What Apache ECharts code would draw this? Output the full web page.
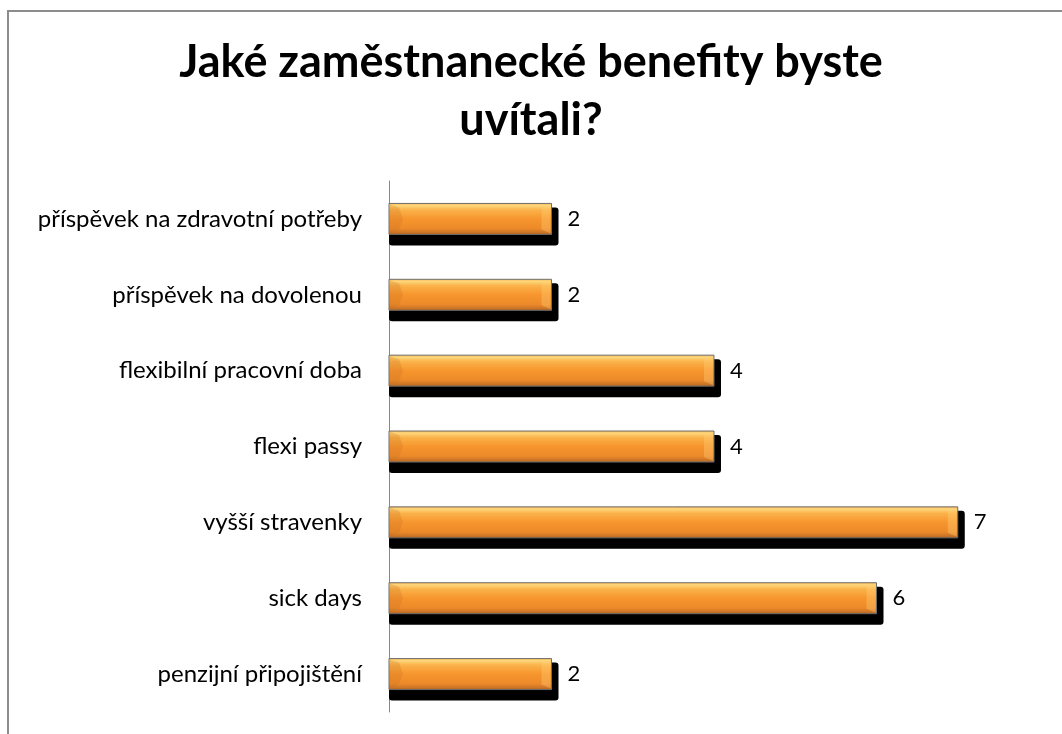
<!DOCTYPE html>
<html>
<head>
<meta charset="utf-8">
<script src="https://cdn.jsdelivr.net/npm/echarts@6/dist/echarts.min.js"></script>
<style>
html,body{margin:0;padding:0;background:#fff;}
#chart{width:1062px;height:734px;}
</style>
</head>
<body>
<div id="chart"></div>
<script>
var titleText = 'Jaké zaměstnanecké benefity byste\nuvítali?';
var categories = ['penzijní připojištění', 'sick days', 'vyšší stravenky', 'flexi passy', 'flexibilní pracovní doba', 'příspěvek na dovolenou', 'příspěvek na zdravotní potřeby'];
var values = [2, 6, 7, 4, 4, 2, 2];

var seriesData = values.map(function (v, i) { return [v, i]; });

var faceGrad = new echarts.graphic.LinearGradient(0, 0, 0, 1, [
  { offset: 0, color: '#f8b04a' },
  { offset: 0.08, color: '#fdd77c' },
  { offset: 0.22, color: '#fbb24a' },
  { offset: 0.5, color: '#f7952d' },
  { offset: 0.8, color: '#ec8a2a' },
  { offset: 0.92, color: '#cd7526' },
  { offset: 1, color: '#a9621f' }
]);

function renderBar(params, api) {
  var p0 = api.coord([0, api.value(1)]);
  var p1 = api.coord([api.value(0), api.value(1)]);
  var h = 31;
  var x0 = p0[0], x1 = p1[0];
  var y0 = p0[1] - h / 2, y1 = p0[1] + h / 2;
  var bev = 10;
  return {
    type: 'group',
    children: [
      { type: 'rect', shape: { x: x0, y: y0 + 4, width: x1 - x0 + 7, height: h + 7, r: 3 },
        style: { fill: '#000' } },
      { type: 'rect', shape: { x: x0, y: y0, width: x1 - x0, height: h },
        style: { fill: faceGrad, stroke: '#6e6e6e', lineWidth: 1 } },
      { type: 'polygon', shape: { points: [[x1 - bev, y0 + 4], [x1 - 1, y0 + 1], [x1 - 1, y1 - 1], [x1 - bev, y1 - 5]] },
        style: { fill: 'rgba(255,210,120,0.35)' } },
      { type: 'polygon', shape: { points: [[x0 + 1, y0 + 1], [x0 + bev, y0 + 4], [x0 + bev + 4, y0 + h / 2], [x0 + bev, y1 - 5], [x0 + 1, y1 - 1]] },
        style: { fill: 'rgba(200,110,30,0.25)' } }
    ]
  };
}

var chart = echarts.init(document.getElementById('chart'));
chart.setOption({
  animation: false,
  backgroundColor: '#ffffff',
  graphic: [{
    type: 'polyline',
    shape: { points: [[8, 734], [8, 11], [1062, 11]] },
    style: { stroke: '#8c8c8c', lineWidth: 2, fill: null }
  }],
  title: {
    text: titleText,
    left: 'center',
    top: 28,
    textStyle: { fontFamily: 'Lato', fontWeight: 'bold', fontSize: 45, color: '#000', lineHeight: 58 }
  },
  grid: { left: 389, right: 23, top: 181, bottom: 22, containLabel: false },
  xAxis: {
    type: 'value', min: 0, max: 8,
    axisLine: { show: false }, axisTick: { show: false },
    axisLabel: { show: false }, splitLine: { show: false }
  },
  yAxis: {
    type: 'category', data: categories,
    axisLine: { show: true, lineStyle: { color: '#888', width: 1 } },
    axisTick: { show: false },
    axisLabel: { fontFamily: 'Lato', fontSize: 24, color: '#000', margin: 27 }
  },
  series: [{
    type: 'custom',
    renderItem: renderBar,
    encode: { x: 0, y: 1 },
    data: seriesData,
    z: 2
  }, {
    type: 'bar',
    data: values,
    barWidth: 31,
    itemStyle: { color: 'rgba(0,0,0,0)' },
    label: {
      show: true, position: 'right', distance: 16,
      fontFamily: 'Lato', fontSize: 22, color: '#000'
    },
    z: 3
  }]
});
</script>
</body>
</html>
